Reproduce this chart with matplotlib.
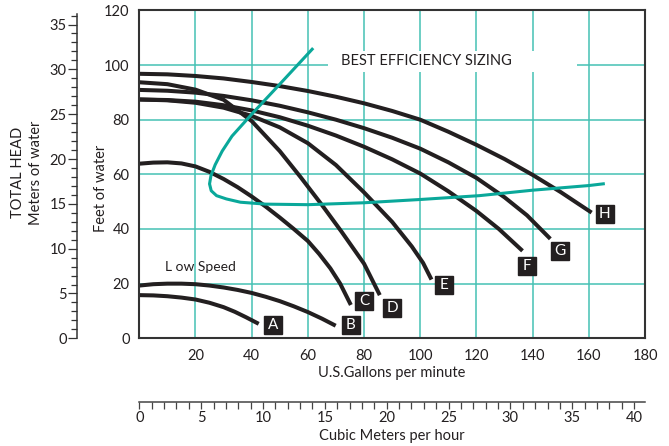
import numpy as np
import matplotlib
matplotlib.use("Agg")
import matplotlib.pyplot as plt
from matplotlib.patches import Rectangle
from matplotlib.ticker import MultipleLocator

plt.rcParams['font.family'] = ['Lato', 'DejaVu Sans']

# === pump curves (gpm, feet of head) ===
a_gpm = [0, 5, 10, 15, 20, 25, 30, 34, 38, 42.5]
a_ft = [15.8, 15.7, 15.4, 14.9, 14.2, 13.0, 11.4, 9.7, 7.7, 5.3]

b_gpm = [0, 5, 10, 15, 20, 25, 30, 35, 40, 45, 50, 55, 60, 65, 69.9]
b_ft = [19.3, 19.8, 20.0, 20.0, 19.8, 19.3, 18.6, 17.7, 16.6, 15.2, 13.6,
        11.7, 9.6, 7.2, 4.6]

c_gpm = [0, 5, 10, 15, 20, 25, 30, 35, 40, 45, 50, 55, 60, 64, 68, 71.5, 75.3]
c_ft = [63.9, 64.3, 64.4, 64.0, 62.9, 60.9, 58.3, 55.3, 51.9, 48.2, 44.2,
        40.0, 35.6, 30.9, 25.6, 20.0, 12.2]

d_gpm = [0, 10, 20, 30, 40, 50, 57.4, 65, 72, 80, 85.6]
d_ft = [93.7, 93.0, 91.0, 87.3, 79.5, 68.5, 59.0, 48.8, 39.0, 27.3, 15.8]

e_gpm = [0, 10, 20, 30, 40, 50, 60, 70, 80, 90, 97, 101, 104]
e_ft = [87.4, 87.1, 86.2, 84.4, 81.4, 77.2, 71.4, 63.4, 53.4, 42.6, 33.6,
        27.6, 21.5]

f_gpm = [0, 10, 20, 30, 40, 50, 60, 70, 80, 90, 100, 110, 120, 128, 136.4]
f_ft = [87.4, 87.2, 86.6, 85.3, 83.4, 80.9, 77.8, 74.2, 70.1, 65.5, 60.3,
        53.8, 46.6, 40.0, 32.0]

g_gpm = [0, 10, 20, 30, 40, 50, 60, 70, 80, 90, 100, 110, 120, 130, 138, 146.3]
g_ft = [90.9, 90.6, 89.9, 88.7, 87.1, 85.1, 82.7, 80.0, 76.9, 73.4, 69.4,
        64.4, 58.7, 51.6, 45.0, 36.4]

h_gpm = [0, 10, 20, 30, 40, 50, 60, 70, 80, 90, 100, 110, 120, 130, 140,
         150, 156, 161]
h_ft = [96.8, 96.6, 96.0, 95.1, 93.8, 92.3, 90.5, 88.4, 86.0, 83.2, 80.0,
        75.6, 70.8, 65.6, 59.8, 53.5, 49.4, 46.0]

# best efficiency line
eff_gpm = [61.9, 50, 40, 33, 29.5, 27, 25.5, 25, 25.6, 27.5, 31, 36, 45,
           60, 80, 100, 121, 140, 160, 165.7]
eff_ft = [106.2, 93.0, 82.0, 74.0, 68.5, 63.5, 59.5, 56.5, 54.0, 52.2, 51.0,
          49.8, 49.1, 48.9, 49.6, 50.8, 52.2, 54.2, 55.9, 56.6]

# curve labels
lab_names = ['A', 'B', 'C', 'D', 'E', 'F', 'G', 'H']
lab_gpm = [47.5, 75.3, 80.0, 90.0, 108.4, 138.1, 149.8, 165.6]
lab_ft = [4.8, 4.9, 13.8, 11.1, 19.6, 26.5, 32.0, 45.4]

gpm_ticks = [20, 40, 60, 80, 100, 120, 140, 160, 180]
ft_ticks = [0, 20, 40, 60, 80, 100, 120]
m_ticks = [0, 5, 10, 15, 20, 25, 30, 35]
m3h_ticks = [0, 5, 10, 15, 20, 25, 30, 35, 40]

GPM_TO_M3H = 0.22712
FT_TO_M = 0.3048

W, H = 669, 446
fig = plt.figure(figsize=(W / 100, H / 100), dpi=100)

left, right, top, bottom = 139.3, 645, 10.4, 338.3
ax = fig.add_axes([left / W, 1 - bottom / H, (right - left) / W, (bottom - top) / H])

grid_c = '#45c1b4'
curve_c = '#231f20'
teal = '#0aa89a'

ax.set_xlim(0, 180)
ax.set_ylim(0, 120)
for x in range(20, 180, 20):
    ax.axvline(x, color=grid_c, lw=1.1, zorder=1)
for y in range(20, 120, 20):
    ax.axhline(y, color=grid_c, lw=1.1, zorder=1)

# white patch behind the title text
ax.add_patch(Rectangle((67, 97.3), 88.7, 7.9, fc='white', ec='none', zorder=2))
ax.text(102.3, 101.5, 'BEST EFFICIENCY SIZING', ha='center', va='center',
        fontsize=10.5, color=curve_c, zorder=3)

curves = [(a_gpm, a_ft), (b_gpm, b_ft), (c_gpm, c_ft), (d_gpm, d_ft),
          (e_gpm, e_ft), (f_gpm, f_ft), (g_gpm, g_ft), (h_gpm, h_ft)]
for xs, ys in curves:
    ax.plot(xs, ys, color=curve_c, lw=2.9, solid_capstyle='butt',
            solid_joinstyle='round', zorder=3)

ax.plot(eff_gpm, eff_ft, color=teal, lw=2.2, solid_capstyle='butt',
        solid_joinstyle='round', zorder=4)

for name, x, y in zip(lab_names, lab_gpm, lab_ft):
    ax.plot(x, y, marker='s', ms=13, color=curve_c, zorder=5)
    ax.text(x, y, name, color='white', ha='center', va='center',
            fontsize=11, zorder=6)

ax.text(21.6, 26.0, 'L ow Speed', ha='center', va='center', fontsize=10,
        color=curve_c, zorder=3)

ax.set_xticks(gpm_ticks)
ax.set_yticks(ft_ticks)
ax.tick_params(length=0, labelsize=10.5, labelcolor=curve_c)
ax.tick_params(axis='x', pad=8)
ax.tick_params(axis='y', pad=7)
for sp in ax.spines.values():
    sp.set_color('#333333')
    sp.set_linewidth(1.5)
    sp.set_zorder(7)
ax.set_xlabel('U.S.Gallons per minute', fontsize=10.5, color=curve_c, labelpad=2)
fig.text(101 / W, 1 - 188 / H, 'Feet of water', rotation=90, ha='center',
         va='center', fontsize=10.5, color=curve_c)

# === meters of water scale on the far left ===
axm = fig.add_axes([77 / W, 1 - bottom / H, 0.0001, (bottom - top) / H])
axm.set_ylim(0, 120 * FT_TO_M)
axm.set_xticks([])
for k in ['top', 'right', 'bottom']:
    axm.spines[k].set_visible(False)
axm.spines['left'].set_color('#333333')
axm.spines['left'].set_linewidth(1.1)
axm.spines['left'].set_bounds(0, 36.2)
axm.set_yticks(m_ticks)
axm.yaxis.set_minor_locator(MultipleLocator(1))
axm.tick_params(axis='y', which='major', length=6.5, width=0.9, pad=1,
                labelsize=10.5, labelcolor=curve_c, color='#333333')
axm.tick_params(axis='y', which='minor', length=4.3, width=0.9, color='#333333')
axm.patch.set_visible(False)
fig.text(18 / W, 1 - 172 / H, 'TOTAL HEAD', rotation=90, ha='center',
         va='center', fontsize=10.5, color=curve_c)
fig.text(36 / W, 1 - 173 / H, 'Meters of water', rotation=90, ha='center',
         va='center', fontsize=10.5, color=curve_c)

# === cubic meters per hour scale at the bottom ===
axc = fig.add_axes([left / W, 1 - 402 / H, (right - left) / W, 0.0001])
axc.set_xlim(0, 180 * GPM_TO_M3H)
axc.set_yticks([])
for k in ['top', 'right', 'left']:
    axc.spines[k].set_visible(False)
axc.spines['bottom'].set_color('#444444')
axc.spines['bottom'].set_linewidth(1.1)
axc.set_xticks(m3h_ticks)
axc.xaxis.set_minor_locator(MultipleLocator(1))
axc.tick_params(axis='x', which='both', length=5, width=0.9, color='#444444')
axc.tick_params(axis='x', which='major', pad=1.5, labelsize=10.5, labelcolor=curve_c)
axc.patch.set_visible(False)
axc.set_xlabel('Cubic Meters per hour', fontsize=10.5, color=curve_c, labelpad=3)

fig.savefig('out.png', dpi=100)
